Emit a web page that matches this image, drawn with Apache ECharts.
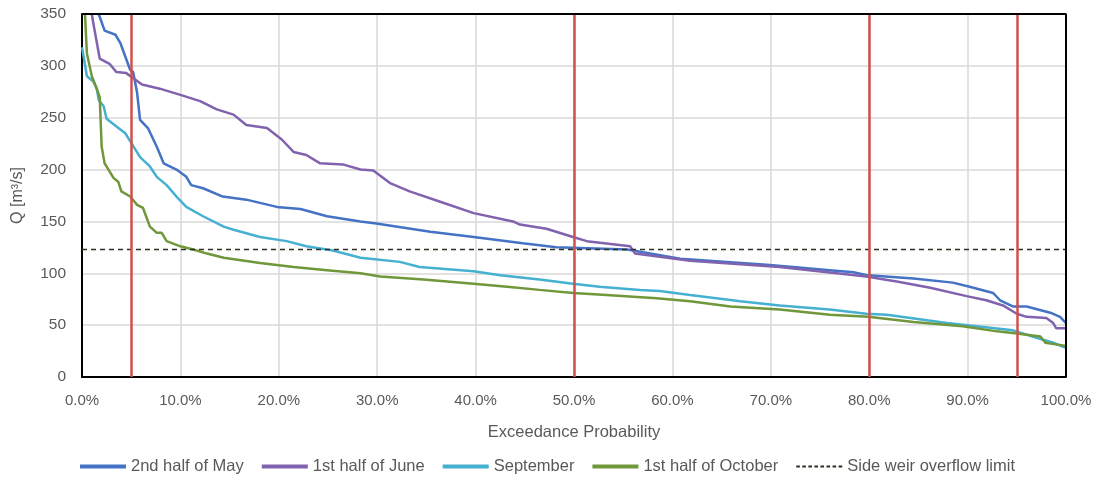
<!DOCTYPE html>
<html>
<head>
<meta charset="utf-8">
<script src="https://cdn.jsdelivr.net/npm/echarts@6/dist/echarts.min.js"></script>
<style>
  html, body { margin: 0; padding: 0; background: #fff; }
  #chart { width: 1095px; height: 479px; }
</style>
</head>
<body>
<div id="chart"></div>
<script>
// exceedance probability [%] / discharge [m3/s] pairs
const mayProb = [1.7, 2.3, 3.4, 3.9, 4.9, 5.2, 5.6, 5.9, 6.7, 7.6, 8.3, 9.6, 10.6, 11.1, 12.3, 14.3, 16.7, 19.8, 22.2, 24.9, 28.3, 29.9, 35.4, 39.8, 44.8, 48.2, 55.4, 60.8, 69.9, 76, 78.4, 79.9, 84.5, 88.5, 90.2, 92.6, 93.3, 94.6, 96, 98.4, 99.4, 100]
const mayQ = [350, 334, 330, 322, 296, 294, 274, 248, 240, 222, 206, 200, 193, 185, 182, 174, 171, 164, 162, 155, 150, 148, 140, 135, 129, 125, 123, 114, 108, 103, 101, 98, 95, 91, 87, 81, 74, 68, 68, 62, 58, 52]

const juneProb = [1.0, 1.15, 1.8, 2.8, 3.5, 4.5, 6.1, 7.9, 10, 12, 13.7, 15.4, 16.7, 18.8, 20.3, 21.5, 22.8, 24.2, 26.5, 28.3, 29.6, 31.3, 33.3, 36.4, 39.8, 43.8, 44.5, 47.2, 49.9, 51.3, 55.7, 56.2, 61.8, 70.9, 79.7, 82.8, 86.2, 89.9, 91.9, 93.6, 95, 96, 98, 98.7, 99, 100]
const juneQ = [350, 341, 307, 302, 294, 293, 282, 278, 272, 266, 258, 253, 243, 240, 229, 217, 214, 206, 205, 200, 199, 187, 179, 169, 158, 150, 147, 143, 135, 131, 126, 119, 112, 106, 97, 92, 86, 78, 74, 69, 61, 58, 57, 52, 47, 47]

const sepProb = [0, 0.2, 0.5, 1.15, 1.5, 1.7, 2.2, 2.5, 3.7, 4.4, 5.05, 5.9, 6.9, 7.6, 8.6, 9.6, 10.6, 12.3, 14.4, 15.4, 18.1, 20.8, 22.8, 25.5, 28.3, 32.3, 34.3, 39.8, 42.5, 46.5, 49.9, 52.6, 56.7, 58.7, 61.8, 66.9, 70.9, 76, 79.7, 81.8, 87.9, 94.6, 96.6, 98.7, 100]
const sepQ = [318, 317, 290, 285, 278, 267, 261, 249, 240, 235, 225, 212, 203, 193, 185, 174, 164, 155, 145, 142, 135, 131, 126, 122, 115, 111, 106, 102, 98, 94, 90, 87, 84, 83, 79, 73, 69, 65, 61, 60, 52, 45, 39, 33, 28]

const octProb = [0.3, 0.5, 1, 1.5, 1.8, 2, 2.3, 3.2, 3.7, 4, 4.9, 5.6, 6.2, 6.9, 7.6, 8.1, 8.6, 10, 11.3, 12.7, 14.4, 18.1, 21.5, 24.9, 28.3, 30.3, 34.7, 39.8, 43.2, 46.5, 49.9, 53.3, 58.4, 61.8, 65.9, 70.9, 76, 79.9, 84.5, 89.5, 93, 95, 97.4, 97.9, 100]
const octQ = [350, 312, 290, 278, 270, 222, 206, 192, 188, 179, 174, 166, 163, 145, 139, 139, 131, 126, 123, 119, 115, 110, 106, 103, 100, 97, 94, 90, 87, 84, 81, 79, 76, 73, 68, 65, 60, 58, 53, 49, 44, 42, 39, 33, 30]

const overflowLimit = 123
const markProbs = [5, 50, 80, 95]

const xTicks = [0, 10, 20, 30, 40, 50, 60, 70, 80, 90, 100]
const yTicks = [0, 50, 100, 150, 200, 250, 300, 350]

const pairs = (xs, ys) => xs.map((x, i) => [x, ys[i]])

const FONT = '"Liberation Sans", sans-serif'
const TEXT = '#595959'

function curve(name, color, xs, ys) {
  return {
    name,
    type: 'line',
    data: pairs(xs, ys),
    showSymbol: false,
    symbol: 'none',
    clip: true,
    lineStyle: { color, width: 2.5 },
    itemStyle: { color },
    z: 3,
  }
}

const chart = echarts.init(document.getElementById('chart'))
chart.setOption({
  animation: false,
  textStyle: { fontFamily: FONT },
  grid: { left: 82, right: 29, top: 14, bottom: 102 },
  legend: {
    top: 458,
    left: 'center',
    padding: 0,
    itemWidth: 46,
    itemHeight: 4,
    itemGap: 18,
    icon: 'rect',
    textStyle: { color: TEXT, fontSize: 16.5, fontFamily: FONT },
    data: [
      '2nd half of May',
      '1st half of June',
      'September',
      '1st half of October',
      { name: 'Side weir overflow limit', icon: 'path://M0,0h3v1.5h-3zM5,0h3v1.5h-3zM10,0h3v1.5h-3zM15,0h3v1.5h-3zM20,0h3v1.5h-3zM25,0h3v1.5h-3zM30,0h3v1.5h-3zM35,0h3v1.5h-3z' },
    ],
  },
  xAxis: {
    type: 'value',
    min: xTicks[0],
    max: xTicks[xTicks.length - 1],
    interval: 10,
    name: 'Exceedance Probability',
    nameLocation: 'middle',
    nameGap: 47,
    nameTextStyle: { color: TEXT, fontSize: 16.5, fontFamily: FONT },
    axisLine: { show: true, lineStyle: { color: '#000', width: 2 } },
    axisTick: { show: false },
    axisLabel: { color: TEXT, fontSize: 15, margin: 16, formatter: (v) => v.toFixed(1) + '%' },
    splitLine: { show: true, lineStyle: { color: '#D9D9D9', width: 1.5 } },
  },
  yAxis: {
    type: 'value',
    min: yTicks[0],
    max: yTicks[yTicks.length - 1],
    interval: 50,
    name: 'Q [m³/s]',
    nameLocation: 'middle',
    nameRotate: 90,
    nameGap: 56,
    nameTextStyle: { color: TEXT, fontSize: 16, fontFamily: FONT },
    axisLine: { show: true, lineStyle: { color: '#000', width: 2 } },
    axisTick: { show: false },
    axisLabel: { color: TEXT, fontSize: 15.5, margin: 16 },
    splitLine: { show: true, lineStyle: { color: '#D9D9D9', width: 1.5 } },
  },
  series: [
    curve('2nd half of May', '#4472C4', mayProb, mayQ),
    curve('1st half of June', '#8162AE', juneProb, juneQ),
    curve('September', '#45B0D0', sepProb, sepQ),
    curve('1st half of October', '#70973A', octProb, octQ),
    {
      name: 'Side weir overflow limit',
      type: 'line',
      data: [[xTicks[0], overflowLimit], [xTicks[xTicks.length - 1], overflowLimit]],
      symbol: 'none',
      lineStyle: { color: '#2E2E22', width: 1.5, type: [5, 4] },
      itemStyle: { color: '#2E2E22' },
      z: 4,
      markLine: {
        silent: true,
        symbol: 'none',
        label: { show: false },
        lineStyle: { color: '#D0504D', width: 2.5, type: 'solid' },
        data: markProbs.map((p) => ({ xAxis: p })),
        z: 5,
      },
    },
    {
      // top and right frame
      type: 'line',
      data: [[xTicks[0], 350], [100, 350], [100, 0]],
      symbol: 'none',
      lineStyle: { color: '#000', width: 2 },
      silent: true,
      z: 6,
    },
  ],
})
</script>
</body>
</html>
